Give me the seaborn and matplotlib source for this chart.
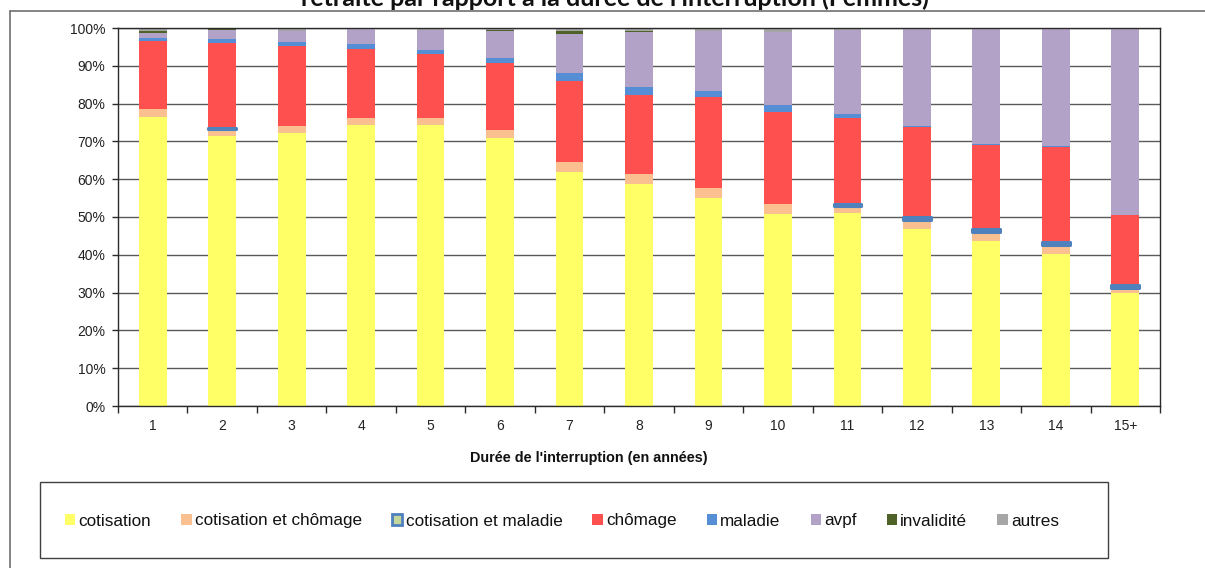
import numpy as np
import pandas as pd
import matplotlib
matplotlib.use("Agg")
import matplotlib.pyplot as plt
import matplotlib.patches as mpatches
from matplotlib.lines import Line2D
from matplotlib.ticker import FixedLocator, PercentFormatter
import seaborn as sns

# data (% of each bar)
categories = ['1', '2', '3', '4', '5', '6', '7', '8', '9', '10', '11', '12', '13', '14', '15+']
cotisation = [76.5, 71.4, 72.2, 74.3, 74.3, 70.8, 61.8, 58.6, 55.1, 50.9, 51.1, 46.7, 43.7, 40.2, 29.8]
cot_chomage = [2.1, 2.0, 1.9, 1.9, 2.0, 2.2, 2.7, 2.7, 2.6, 2.6, 1.9, 2.5, 2.4, 2.3, 1.3]
cot_maladie = [0.0, 0.2, 0.0, 0.0, 0.0, 0.0, 0.0, 0.0, 0.0, 0.0, 0.5, 0.7, 0.7, 1.0, 0.9]
chomage = [17.9, 22.5, 21.1, 18.2, 16.9, 17.8, 21.6, 21.1, 24.0, 24.4, 22.7, 24.0, 22.3, 25.1, 18.6]
maladie = [0.9, 1.1, 1.2, 1.3, 1.1, 1.3, 1.9, 2.1, 1.7, 1.8, 1.1, 0.3, 0.1, 0.3, 0.0]
avpf = [1.4, 2.4, 2.8, 4.0, 5.3, 7.1, 10.4, 14.5, 15.7, 19.3, 22.2, 25.7, 30.6, 31.0, 49.4]
invalidite = [0.4, 0.1, 0.1, 0.0, 0.0, 0.4, 0.8, 0.3, 0.0, 0.0, 0.0, 0.0, 0.0, 0.0, 0.0]
autres = [0.8, 0.3, 0.7, 0.3, 0.4, 0.4, 0.8, 0.7, 0.9, 1.0, 0.5, 0.1, 0.2, 0.1, 0.0]

series = [
    ('cotisation', cotisation, '#FFFF66'),
    ('cotisation et chômage', cot_chomage, '#FAC090'),
    ('cotisation et maladie', cot_maladie, '#C3D69B'),
    ('chômage', chomage, '#FF5050'),
    ('maladie', maladie, '#558ED5'),
    ('avpf', avpf, '#B3A2C7'),
    ('invalidité', invalidite, '#4F6228'),
    ('autres', autres, '#A6A6A6'),
]
marker_edge = '#4F81BD'

sns.set_theme(style='white')
plt.rcParams['font.family'] = ['Liberation Sans', 'DejaVu Sans']

W, H = 1205, 568
fig = plt.figure(figsize=(W / 100, H / 100), dpi=100)
ax = fig.add_axes([118 / W, 1 - 406 / H, (1160 - 118) / W, (406 - 28) / H])

bottom = np.zeros(len(categories))
for name, vals, col in series:
    df = pd.DataFrame({'duree': categories, 'part': vals})
    n0 = len(ax.patches)
    sns.barplot(data=df, x='duree', y='part', bottom=bottom, color=col,
                width=0.4, errorbar=None, saturation=1, ax=ax, zorder=2)
    new = ax.patches[n0:]
    if name == 'cotisation et maladie':
        # thin segments drawn with a thick blue outline, hidden where empty
        for p, v in zip(new, vals):
            if v > 0:
                p.set_edgecolor(marker_edge)
                p.set_linewidth(2.2)
                p.set_joinstyle('round')
                p.set_zorder(4)
            else:
                p.set_visible(False)
    else:
        for p in new:
            p.set_linewidth(0)
    bottom = bottom + np.array(vals)

ax.set_xlim(-0.5, len(categories) - 0.5)
ax.set_ylim(0, 100)
ax.set_yticks(np.arange(0, 101, 10))
ax.yaxis.set_major_formatter(PercentFormatter(decimals=0))
ax.yaxis.grid(True, color='#5a5a5a', linewidth=1, zorder=0)
ax.set_axisbelow(True)
for s in ax.spines.values():
    s.set_color('#2b2b2b')
    s.set_linewidth(1)

ax.tick_params(axis='y', which='major', direction='out', length=4, width=1,
               color='#2b2b2b', labelsize=10, pad=5, left=True, labelcolor='#222222')
ax.tick_params(axis='x', which='major', length=0, labelsize=10, pad=9, labelcolor='#222222')
ax.xaxis.set_minor_locator(FixedLocator(np.arange(-0.5, len(categories), 1.0)))
ax.tick_params(axis='x', which='minor', direction='out', length=5, width=1,
               color='#2b2b2b', bottom=True)

ax.set_ylabel('')
ax.set_xlabel("Durée de l'interruption (en années)", fontsize=10.4, fontweight='bold',
              color='#111111')
ax.xaxis.set_label_coords(0.452, -0.12)

# title (cut off at the top of the picture, as in the source)
fig.text(615 / W, 1 - 6 / H, "retraite par rapport à la durée de l'interruption (Femmes)",
         ha='center', va='baseline', fontsize=18, fontweight='bold',
         family=['Lato', 'DejaVu Sans'], color='#111111')

# outer chart border
fig.add_artist(Line2D([10 / W, 1], [1 - 11 / H, 1 - 11 / H], transform=fig.transFigure,
                      color='#707070', linewidth=1.2))
fig.add_artist(Line2D([10 / W, 10 / W], [0, 1 - 11 / H], transform=fig.transFigure,
                      color='#707070', linewidth=1.2))

# legend box
fig.add_artist(mpatches.Rectangle((40 / W, 1 - 558 / H), (1108 - 40) / W, (558 - 482) / H,
                                  transform=fig.transFigure, fill=False,
                                  edgecolor='#404040', linewidth=1))
handles = []
for name, vals, col in series:
    if name == 'cotisation et maladie':
        handles.append(mpatches.Patch(facecolor=col, edgecolor=marker_edge, linewidth=2,
                                      label=name))
    else:
        handles.append(mpatches.Patch(facecolor=col, edgecolor='none', label=name))
fig.legend(handles=handles, loc='center', bbox_to_anchor=(562 / W, 1 - 521 / H),
           ncol=len(handles), frameon=False, fontsize=12.3, handlelength=0.6,
           handleheight=0.6, handletextpad=0.2, columnspacing=1.75,
           labelcolor='#111111')

fig.savefig('out.png', dpi=100)
